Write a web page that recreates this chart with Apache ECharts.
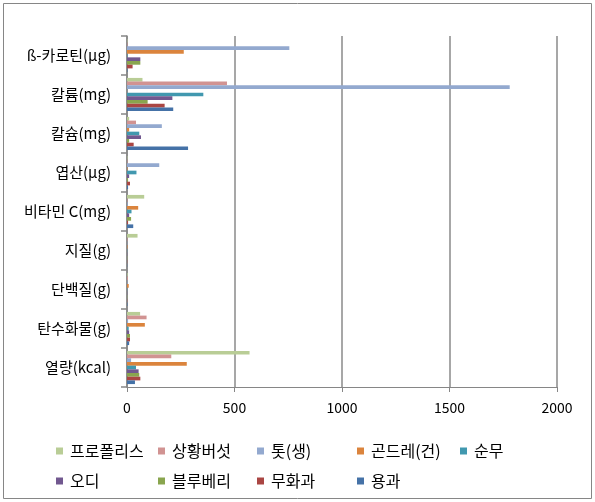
<!DOCTYPE html>
<html><head><meta charset="utf-8">
<script src="https://cdn.jsdelivr.net/npm/echarts@6/dist/echarts.min.js"></script>
<style>html,body{margin:0;padding:0;background:#fff}#c{width:595px;height:502px}</style>
</head><body><div id="c"></div>
<script>
// categories bottom -> top
const categories = ['열량(kcal)','탄수화물(g)','단백질(g)','지질(g)','비타민 C(mg)','엽산(μg)','칼슘(mg)','칼륨(mg)','ß-카로틴(μg)'];
const seriesNames = ['프로폴리스','상황버섯','톳(생)','곤드레(건)','순무','오디','블루베리','무화과','용과'];
const propolis   = [570, 61, 3, 49, 80, 2, 10, 72, 2];
const sanghwang  = [206, 91, 4, 2, 2, 2, 42, 465, 2];
const tot        = [19, 5, 2, 1, 3, 150, 162, 1780, 755];
const gondre     = [278, 83, 8, 2, 52, 2, 10, 0, 264];
const sunmu      = [42, 8, 1, 1, 21, 44, 57, 355, 2];
const odi        = [54, 10, 1, 1, 10, 10, 65, 211, 62];
const blueberry  = [57, 14, 1, 1, 19, 5, 10, 96, 62];
const muhwagwa   = [62, 14, 1, 1, 5, 14, 31, 175, 26];
const yonggwa    = [37, 10, 2, 1, 29, 5, 284, 215, 2];
const xTicks = [0, 500, 1000, 1500, 2000];

const values = [propolis, sanghwang, tot, gondre, sunmu, odi, blueberry, muhwagwa, yonggwa];
const colors = ['#B9CD96','#D19392','#93A9CF','#DB843D','#4198AF','#71588F','#89A54E','#AA4643','#4572A7'];
const font = "'Noto Sans CJK KR', sans-serif";

const chart = echarts.init(document.getElementById('c'));
const legendPos = [[56,443],[158,443],[257,443],[357,443],[460,443],[56,473],[158,473],[257,473],[357,473]];
const legends = seriesNames.map((n,i)=>({
  data:[n], left:legendPos[i][0], top:legendPos[i][1], padding:0,
  itemWidth:7, itemHeight:7, icon:'rect',
  textStyle:{fontFamily:font, fontSize:16, color:'#000', padding:[0,0,0,2]}
}));
chart.setOption({
  animation:false,
  color: colors,
  textStyle:{fontFamily:font},
  graphic:[{type:'rect', shape:{x:3.5,y:3.5,width:588,height:495}, style:{fill:'none', stroke:'#868686', lineWidth:1}, silent:true}],
  legend: legends,
  grid:{left:127, right:38, top:36, bottom:115, containLabel:false},
  xAxis:{type:'value', min:xTicks[0], max:xTicks[xTicks.length-1], interval:500,
    axisLine:{show:true, lineStyle:{color:'#868686'}},
    axisTick:{show:true, length:5, lineStyle:{color:'#868686'}},
    splitLine:{show:true, lineStyle:{color:'#8a8a8a', width:1.5}},
    axisLabel:{fontFamily:font, fontSize:14, color:'#000', margin:14, formatter:v=>String(v)}},
  yAxis:{type:'category', data:categories,
    axisLine:{show:true, lineStyle:{color:'#868686', width:1.5}},
    axisTick:{show:true, length:6, lineStyle:{color:'#868686', width:1.5}},
    axisLabel:{fontFamily:font, fontSize:15, color:'#000', margin:16}},
  series: seriesNames.map((n,i)=>({
    name:n, type:'bar', data:values[i], barGap:'0%', barCategoryGap:'15%',
    itemStyle:{color:colors[i]}
  }))
});
</script></body></html>
